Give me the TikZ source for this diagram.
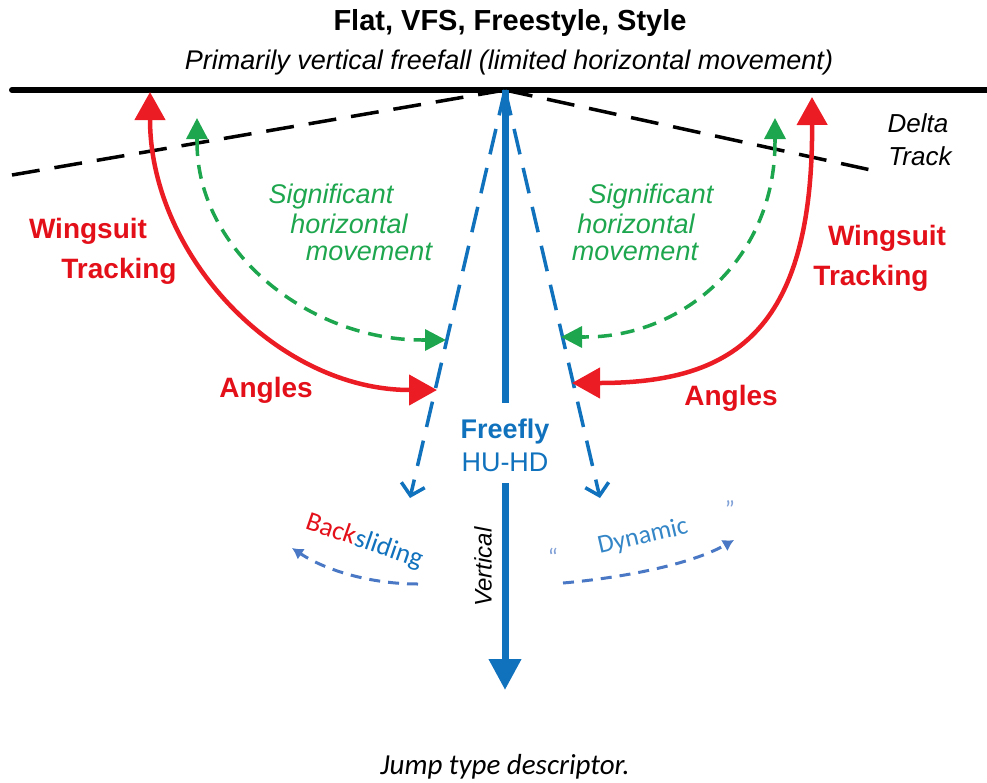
\documentclass[tikz,border=0pt]{standalone}
\usepackage{fontspec}
\setmainfont{Liberation Sans}
\newfontfamily\calib{Carlito}
\usetikzlibrary{arrows.meta}
\definecolor{myred}{HTML}{EC1C24}
\definecolor{txtred}{HTML}{E3101A}
\definecolor{mygreen}{HTML}{1EA64E}
\definecolor{myblue}{HTML}{1071BD}
\definecolor{lightblue}{HTML}{4A78C4}
\newcommand{\fs}[1]{\fontsize{#1}{#1}\selectfont}
\tikzset{
  redarc/.style={draw=myred, line width=4.5pt, {Triangle[length=28pt,width=30pt]}-{Triangle[length=28pt,width=30pt]}},
  greenarc/.style={draw=mygreen, line width=3.5pt, dash pattern=on 14pt off 9pt},
  greentip/.style={draw=mygreen, line width=3.5pt, -{Triangle[length=21pt,width=21pt]}},
  bluedash/.style={draw=myblue, line width=3.5pt, dash pattern=on 26pt off 14pt, -{Straight Barb[length=11pt,width=24pt]}},
  blackdash/.style={draw=black, line width=3.5pt, dash pattern=on 28pt off 15pt},
  smallarc/.style={draw=lightblue, line width=3pt, dash pattern=on 11pt off 8pt, -{Latex[length=11pt,width=13pt]}},
  redlab/.style={text=txtred, font=\bfseries\fs{28}, inner sep=0pt},
  greenlab/.style={text=mygreen, font=\itshape\fs{27}, inner sep=0pt},
  lbl/.style={inner sep=0pt}
}
\begin{document}
\begin{tikzpicture}[x=1pt,y=-1pt]
\useasboundingbox (0,0) rectangle (987,782);
% titles
\node[lbl, font=\bfseries\fs{29}] (title) at (510,23) {Flat, VFS, Freestyle, Style};
\node[lbl, font=\itshape\fs{27}] (sub) at (509,63) {Primarily vertical freefall (limited horizontal movement)};
\node[lbl, font=\calib\itshape\fs{29}] (cap) at (505,767) {Jump type descriptor.};
% coordinates
\coordinate (O) at (505,90);
\coordinate (HL) at (12,90);
\coordinate (HR) at (987,90);
\coordinate (DL) at (12,175);
\coordinate (DR) at (880,172);
\coordinate (BL) at (410,498);
\coordinate (BR) at (600,498);
\coordinate (VT) at (505,403);
\coordinate (VB) at (505,483);
\coordinate (VE) at (505,690);
% horizontal line
\draw[line width=6pt, line cap=round] (HL) -- (HR);
% delta dashed lines
\draw[blackdash] (DL) -- (O);
\draw[blackdash] (O) -- (DR);
% blue dashed angle lines
\draw[bluedash] (O) -- (BL);
\draw[bluedash] (O) -- (BR);
% main vertical
\draw[myblue, line width=7pt] (O) -- (VT);
\draw[myblue, line width=7pt, -{Triangle[length=31pt,width=31pt]}] (VB) -- (VE);
\node[lbl, text=myblue, font=\bfseries\fs{27}] (ff) at (505,432) {Freefly};
\node[lbl, text=myblue, font=\fs{27}] (hu) at (505,462) {HU-HD};
\node[lbl, rotate=90, font=\itshape\fs{24}] (vert) at (483,567) {Vertical};
% red arcs
\coordinate (RLT) at (150,92);
\coordinate (RLB) at (437,390);
\coordinate (RRT) at (812,97);
\coordinate (RRB) at (572,383);
\draw[redarc] (RLT) .. controls (150,256) and (278,390) .. (RLB);
\draw[redarc] (RRT) .. controls (813,335) and (730,383) .. (RRB);
% green arcs
\coordinate (GLT) at (197,118);
\coordinate (GLT2) at (197,142);
\coordinate (GLB) at (446,340);
\coordinate (GLB2) at (422,340);
\coordinate (GRT) at (775,118);
\coordinate (GRT2) at (775,142);
\coordinate (GRB) at (561,337);
\coordinate (GRB2) at (585,337);
\draw[greenarc] (GLT2) .. controls (197,252) and (310,340) .. (GLB2);
\draw[greenarc] (GRT2) .. controls (775,257) and (685,337) .. (GRB2);
\draw[greentip] (GLT2) -- (GLT);
\draw[greentip] (GLB2) -- (GLB);
\draw[greentip] (GRT2) -- (GRT);
\draw[greentip] (GRB2) -- (GRB);
% labels
\node[redlab] (w1) at (88,231) {Wingsuit};
\node[redlab] (t1) at (119,271) {Tracking};
\node[redlab] (a1) at (266,390) {Angles};
\node[redlab] (w2) at (887,238) {Wingsuit};
\node[redlab] (t2) at (871,278) {Tracking};
\node[redlab] (a2) at (731,398) {Angles};
\node[greenlab] (g1) at (331,197) {Significant};
\node[greenlab] (g2) at (349,224) {horizontal};
\node[greenlab] (g3) at (369,252) {movement};
\node[greenlab] (g4) at (651,197) {Significant};
\node[greenlab] (g5) at (636,224) {horizontal};
\node[greenlab] (g6) at (635,252) {movement};
\node[lbl, font=\itshape\fs{26}] (d1) at (918,123) {Delta};
\node[lbl, font=\itshape\fs{26}] (d2) at (920,156) {Track};
% backsliding / dynamic
\coordinate (BJ) at (353,545);
\node[lbl, rotate=-19, anchor=base east, text=txtred, font=\calib\fs{27}] (bk) at (BJ) {Back};
\node[lbl, rotate=-19, anchor=base west, text=myblue, font=\calib\fs{27}] (sl) at (BJ) {sliding};
\coordinate (BS1) at (418,584);
\coordinate (BS2) at (292,548);
\draw[smallarc] (BS1) .. controls (370,584) and (325,570) .. (BS2);
\node[lbl, rotate=13, text=myblue!85!white, font=\calib\fs{26}] (dyn) at (643,537) {Dynamic};
\node[lbl, text=lightblue!70!white, font=\calib\fs{24}] (q1) at (553,557) {“};
\node[lbl, text=lightblue!70!white, font=\calib\fs{24}] (q2) at (730,509) {”};
\coordinate (DY1) at (563,583);
\coordinate (DY2) at (734,540);
\draw[smallarc] (DY1) .. controls (620,578) and (690,565) .. (DY2);
\end{tikzpicture}
\end{document}
